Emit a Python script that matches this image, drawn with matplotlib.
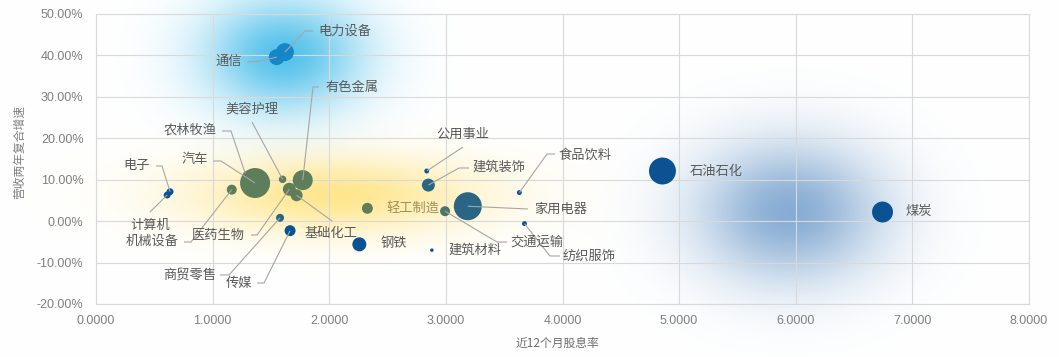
import numpy as np
import matplotlib
matplotlib.use("Agg")
import matplotlib.pyplot as plt
from matplotlib.ticker import FuncFormatter

plt.rcParams['font.family'] = ['Noto Sans CJK SC', 'DejaVu Sans']

# ---------------- data ----------------
industries = ['电力设备', '通信', '农林牧渔', '汽车', '有色金属', '美容护理', '电子', '计算机',
              '机械设备', '医药生物', '基础化工', '商贸零售', '传媒', '钢铁', '轻工制造',
              '公用事业', '建筑装饰', '家用电器', '交通运输', '纺织服饰', '食品饮料',
              '建筑材料', '石油石化', '煤炭']
dividend_yield = [1.62, 1.55, 1.28, 1.364, 1.773, 1.60, 0.635, 0.61,
                  1.164, 1.658, 1.72, 1.578, 1.664, 2.258, 2.327,
                  2.836, 2.85, 3.188, 2.993, 3.674, 3.63,
                  2.88, 4.857, 6.744]
revenue_cagr = [40.8, 39.6, 11.5, 9.2, 9.9, 10.1, 7.1, 6.3,
                7.6, 7.7, 6.25, 0.8, -2.3, -5.6, 3.1,
                12.1, 8.7, 3.6, 2.4, -0.6, 6.9,
                -7.0, 12.1, 2.2]
bubble_size = [81, 64, 4, 225, 100, 14, 12, 12,
               25, 42, 36, 16, 30, 49, 30,
               6, 42, 196, 25, 6, 6,
               3, 182, 110]
cluster = ['light', 'light', 'green', 'green', 'green', 'green', 'dark', 'dark',
           'green', 'green', 'green', 'teal', 'dark', 'dark', 'green',
           'dark', 'teal', 'teal', 'mix', 'dark', 'dark',
           'dark', 'dark', 'dark']

x_ticks = [0, 1, 2, 3, 4, 5, 6, 7, 8]
y_ticks = [-20, -10, 0, 10, 20, 30, 40, 50]
x_title = '近12个月股息率'
y_title = '营收两年复合增速'

# ---------------- styles ----------------
palette = {'dark': '#0A5292', 'light': '#1587C7', 'green': '#5D7D5B',
           'teal': '#2A6584', 'mix': '#4B7566'}

W, H = 1059, 357
fig = plt.figure(figsize=(W / 100, H / 100), dpi=100)

# background glows (decorative)
bg = fig.add_axes([0, 0, 1, 1], zorder=0)
bg.set_xlim(0, W)
bg.set_ylim(H, 0)
bg.axis('off')
GX, GY = np.meshgrid(np.arange(W) + 0.5, np.arange(H) + 0.5)
img = np.ones((H, W, 3))
glows = [((284, 55), 122, 88, (0.22, 0.72, 0.91), 0.85, 2.4),
         ((335, 195), 240, 64, (1.0, 0.88, 0.45), 0.8, 2.8),
         ((790, 212), 155, 115, (0.45, 0.62, 0.80), 0.85, 2.8)]
for (cx, cy), rx, ry, col, a0, k in glows:
    t = ((GX - cx) / rx) ** 2 + ((GY - cy) / ry) ** 2
    a = (a0 * np.exp(-k * t))[..., None]
    img = img * (1 - a) + np.array(col) * a
bg.imshow(img, extent=(0, W, H, 0), aspect='auto', interpolation='bilinear')

# main axes
ax = fig.add_axes([96 / W, 1 - 304 / H, (1029 - 96) / W, (304 - 14) / H], zorder=1)
ax.patch.set_alpha(0)
ax.set_xlim(0, 8)
ax.set_ylim(-20, 50)
ax.set_xticks(x_ticks)
ax.set_yticks(y_ticks)
ax.xaxis.set_major_formatter(FuncFormatter(lambda v, p: f'{v:.4f}'))
ax.yaxis.set_major_formatter(FuncFormatter(lambda v, p: f'{v:.2f}%'))
ax.grid(True, color='#D9D9D9', linewidth=0.8)
ax.set_axisbelow(True)
for s in ax.spines.values():
    s.set_color('#D9D9D9')
    s.set_linewidth(0.8)
ax.tick_params(length=0, labelsize=9, labelcolor='#7F7F7F')
ax.tick_params(axis='y', pad=9)
ax.tick_params(axis='x', pad=8)
for lab in ax.get_xticklabels() + ax.get_yticklabels():
    lab.set_family(['Liberation Sans', 'DejaVu Sans'])

colors = [palette[c] for c in cluster]
ax.scatter(dividend_yield, revenue_cagr, s=np.array(bubble_size) * 2.07,
           c=colors, edgecolors='none', zorder=3)

fig.text(557 / W, 1 - 343 / H, x_title, ha='center', va='center', fontsize=8.5, color='#6B6B6B')
fig.text(20 / W, 1 - 152 / H, y_title, ha='center', va='center', rotation=90,
         fontsize=8.5, color='#7F7F7F')

# overlay for labels and leader lines (pixel coords, top-left origin)
ov = fig.add_axes([0, 0, 1, 1], zorder=2)
ov.set_xlim(0, W)
ov.set_ylim(H, 0)
ov.axis('off')
ov.patch.set_alpha(0)

layout = {
    '电力设备': (318, 31, 'left', [(313, 31), (305, 31)]),
    '通信': (242, 61, 'right', [(247, 62), (260, 61)]),
    '有色金属': (325, 87, 'left', [(319, 87), (313, 87)]),
    '美容护理': (252, 109, 'center', [(252, 122)]),
    '农林牧渔': (217, 130, 'right', [(222, 131), (231, 131)]),
    '汽车': (208, 160, 'right', [(213, 161), (221, 161)]),
    '电子': (150, 165, 'right', [(156, 166), (162, 166)]),
    '计算机': (150, 225, 'center', [(150, 212)]),
    '机械设备': (179, 241, 'right', [(184, 242), (191, 242)]),
    '医药生物': (245, 235, 'right', [(251, 235), (257, 235)]),
    '基础化工': (331, 234, 'center', [(332, 221)]),
    '商贸零售': (216, 275, 'right', [(220, 275), (229, 275)]),
    '传媒': (252, 283, 'right', [(257, 283), (264, 283)]),
    '钢铁': (381, 244, 'left', []),
    '轻工制造': (386, 208, 'left', []),
    '公用事业': (463, 134, 'center', [(463, 147)]),
    '建筑装饰': (472, 167, 'left', [(469, 168), (459, 168)]),
    '家用电器': (534, 209, 'left', [(528, 209)]),
    '交通运输': (510, 242, 'left', [(507, 242), (497, 242)]),
    '纺织服饰': (563, 256, 'left', [(560, 256), (550, 256)]),
    '食品饮料': (558, 155, 'left', [(555, 154), (547, 154)]),
    '建筑材料': (448, 250, 'left', []),
    '石油石化': (690, 171, 'left', []),
    '煤炭': (906, 212, 'left', []),
}

for name, xv, yv in zip(industries, dividend_yield, revenue_cagr):
    tx, ty, ha, way = layout[name]
    dx, dy = ax.transData.transform((xv, yv))
    px, py = dx, H - dy
    if way:
        xs = [p[0] for p in way] + [px]
        ys = [p[1] for p in way] + [py]
        ov.plot(xs, ys, color='#A6A6A6', linewidth=0.8, solid_capstyle='butt')
    col = '#A0915C' if name == '轻工制造' else '#595959'
    ov.text(tx, ty, name, ha=ha, va='center', fontsize=9.5, color=col)

fig.savefig('out.png', dpi=100)
